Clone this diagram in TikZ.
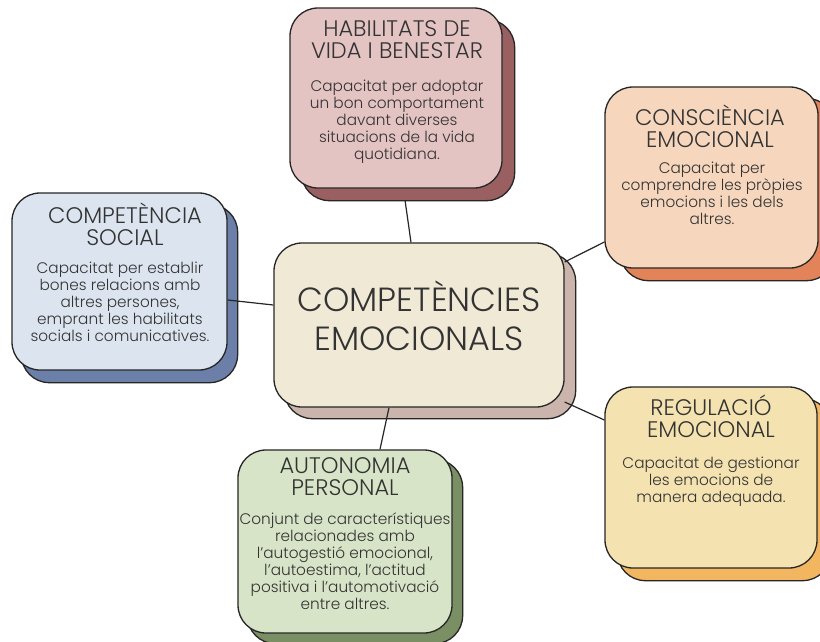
\documentclass[tikz,border=0pt]{standalone}
\usepackage{fontspec}
\setmainfont{Poppins Light}
\usetikzlibrary{backgrounds}
\definecolor{txt}{HTML}{333333}
\definecolor{habF}{HTML}{E4C3C3}\definecolor{habS}{HTML}{9A5F60}
\definecolor{conF}{HTML}{F6D7BD}\definecolor{conS}{HTML}{E2835A}
\definecolor{socF}{HTML}{DCE5EF}\definecolor{socS}{HTML}{6B7FA9}
\definecolor{cenF}{HTML}{EFE9D6}\definecolor{cenS}{HTML}{CAB4AB}
\definecolor{autF}{HTML}{D8E4C8}\definecolor{autS}{HTML}{7A8F63}
\definecolor{regF}{HTML}{F4E3B0}\definecolor{regS}{HTML}{F2B660}
\tikzset{
  card/.style={draw=black!85, line width=1.3pt, rounded corners=28pt, fill=#1, inner sep=0pt},
  shade/.style={draw=black!85, line width=1.3pt, rounded corners=28pt, fill=#1},
  ttl/.style={anchor=north, align=center, text=txt, font=\fontsize{22.5}{22}\selectfont, inner sep=0pt},
  bdy/.style={anchor=north, align=center, text=txt, font=\fontsize{15.3}{17}\selectfont, inner sep=0pt},
  link/.style={draw=black!85, line width=1.2pt}
}
\begin{document}
\begin{tikzpicture}[x=1pt,y=-1pt]
\useasboundingbox (0,0) rectangle (820,641);
% front cards
\node[card=habF, minimum width=212pt, minimum height=180pt] (hab) at (396,98) {};
\node[card=conF, minimum width=213pt, minimum height=181pt] (con) at (711.5,177.5) {};
\node[card=socF, minimum width=215pt, minimum height=177pt] (soc) at (119.5,281.5) {};
\node[card=cenF, minimum width=290pt, minimum height=164pt] (cen) at (419,325) {};
\node[card=autF, minimum width=214pt, minimum height=183pt] (aut) at (345,541.5) {};
\node[card=regF, minimum width=212pt, minimum height=181pt] (reg) at (711,477.5) {};
\begin{scope}[on background layer]
  \fill[white] (0,0) rectangle (820,641);
  \draw[shade=habS] ([shift={(12,12)}]hab.south west) rectangle ([shift={(12,12)}]hab.north east);
  \draw[shade=conS] ([shift={(16,12)}]con.south west) rectangle ([shift={(16,12)}]con.north east);
  \draw[shade=socS] ([shift={(10,12)}]soc.south west) rectangle ([shift={(10,12)}]soc.north east);
  \draw[shade=cenS] ([shift={(11,11)}]cen.south west) rectangle ([shift={(11,11)}]cen.north east);
  \draw[shade=autS] ([shift={(10,10)}]aut.south west) rectangle ([shift={(10,10)}]aut.north east);
  \draw[shade=regS] ([shift={(13,12)}]reg.south west) rectangle ([shift={(13,12)}]reg.north east);
  \coordinate (habE) at (405,200);
  \draw[link] (habE) -- (cen.north -| 411,0);
  \draw[link] (con.west |- 0,242) -- (cen.north east |- 0,262) ;
  \draw[link] (soc.east |- 0,300) -- (cen.west |- 0,305);
  \draw[link] (reg.west |- 0,420) -- (cen.east |- 0,402);
  \draw[link] (aut.north -| 380,0) -- (cen.south -| 389,0);
\end{scope}
% texts
\node[ttl] (habT) at (397,20) {HABILITATS DE\\VIDA I BENESTAR};
\node[bdy] (habB) at (397,80) {Capacitat per adoptar\\un bon comportament\\davant diverses\\situacions de la vida\\quotidiana.};
\node[ttl] (conT) at (710,105) {CONSCIÈNCIA\\EMOCIONAL};
\node[bdy] (conB) at (712,162) {Capacitat per\\comprendre les pròpies\\emocions i les dels\\altres.};
\node[ttl] (socT) at (125,203) {COMPETÈNCIA\\SOCIAL};
\node[bdy] (socB) at (120,262) {Capacitat per establir\\bones relacions amb\\altres persones,\\emprant les habilitats\\socials i comunicatives.};
\node[anchor=north, align=center, text=txt, font=\fontsize{33.5}{39}\selectfont, inner sep=0pt] (cenT) at (419,281) {COMPETÈNCIES\\EMOCIONALS};
\node[ttl] (autT) at (345,457) {AUTONOMIA\\PERSONAL};
\node[bdy] (autB) at (345,513) {Conjunt de característiques\\relacionades amb\\l’autogestió emocional,\\l’autoestima, l’actitud\\positiva i l’automotivació\\entre altres.};
\node[ttl] (regT) at (711,395) {REGULACIÓ\\EMOCIONAL};
\node[bdy] (regB) at (711,457) {Capacitat de gestionar\\les emocions de\\manera adequada.};
\end{tikzpicture}
\end{document}
